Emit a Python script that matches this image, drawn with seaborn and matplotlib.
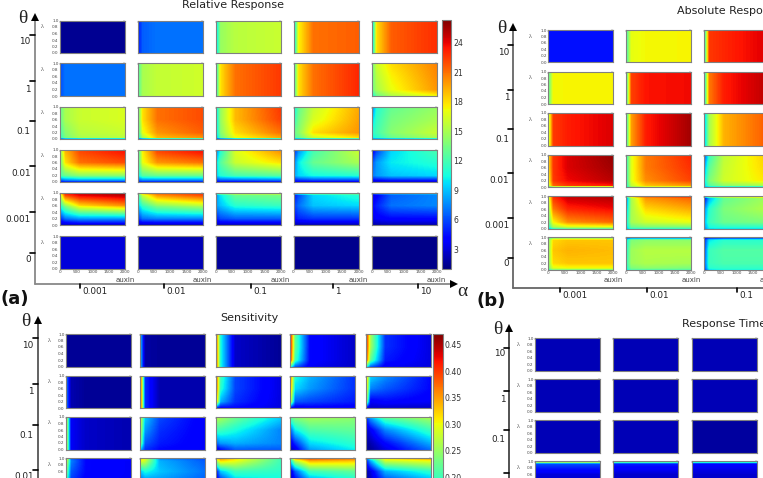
import numpy as np
import matplotlib
matplotlib.use('Agg')
import matplotlib.pyplot as plt
import seaborn as sns
from matplotlib.cm import ScalarMappable
from matplotlib.colors import Normalize

W, H = 763, 478

sns.set_style('white')
plt.rcParams['font.family'] = ['DejaVu Sans']

# sample points inside every small map
auxin_nodes = [0, 150, 600, 2000]
lambda_nodes = [1.0, 0.92, 0.6, 0.2, 0.0]
lambda_nodes_edge = [1.0, 0.92, 0.6, 0.2, 0.05, 0.0]
auxin_ticks = [0, 500, 1000, 1500, 2000]
lambda_ticks = [1.0, 0.8, 0.6, 0.4, 0.2, 0.0]
theta_labels = ['10', '1', '0.1', '0.01', '0.001', '0']
alpha_labels = ['0.001', '0.01', '0.1', '1', '10']

# each map: one number (flat), one row (no lambda change) or 5/6 rows of 4
relative_response = [
    [1.4,
     [4.5, 6.5, 7, 7],
     [9, 14.5, 15.5, 16],
     [9, 17.5, 21, 21.5],
     [8, 18, 21.5, 22.8]],
    [[6, 7, 7, 7],
     [12, 15, 15.8, 16.2],
     [10, 18, 21, 22.5],
     [11, 18, 21, 23],
     [[13, 16, 18, 20.5], [13, 16, 18, 20.5], [13, 15.5, 17.5, 20.3], [13, 15, 17, 20], [10, 13, 15, 17]]],
    [[[13, 15, 16, 16.5], [13, 15, 16, 16.5], [13, 15, 16, 16.5], [12, 14, 15.5, 16], [11, 13.5, 15, 15.5], [5, 6, 6, 6]],
     [[12, 18, 21, 22], [12, 18, 21, 22], [12, 18, 21, 22], [11, 17, 20, 21.5], [10, 15, 19, 20], [5, 5, 5, 5]],
     [[9, 14.5, 19, 22.5], [9, 14.5, 19, 22.5], [9, 14.5, 19, 22.3], [9, 14, 18, 21], [8, 13, 17, 19.5], [5, 5, 5, 5]],
     [[10, 13, 16, 19.5], [10, 13, 16, 19.5], [11, 13.5, 16.5, 19.7], [13, 14, 18, 20], [12, 13, 16, 18], [7, 7, 7, 7]],
     [[7, 11, 13, 14.5], [7, 11, 13, 14.5], [9, 11.5, 13.5, 15], [11, 12, 14, 16], [10, 11, 13, 15], [7, 7, 7, 7]]],
    [[[14, 19, 22, 23.5], [14, 19, 22, 23.5], [13, 18, 21, 22], [12, 13, 14, 14], [6, 7, 7.5, 7.5], [4, 4, 4, 4]],
     [[11, 17.5, 22, 23.5], [11, 17.5, 22, 23.5], [11, 17, 20, 21], [10, 12.5, 13, 13], [6, 7, 7, 7], [4, 4, 4, 4]],
     [[7, 11, 16.5, 20], [7, 11, 16.5, 20], [9, 12.5, 16, 18], [9, 11, 12, 12.5], [5, 6, 6, 6.5], [3.5, 3.5, 3.5, 3.5]],
     [[5, 8, 12, 16], [5, 8, 12, 16], [7, 10, 13, 15], [8, 9.5, 10.5, 11], [4.5, 5, 5.5, 5.5], [3, 3, 3, 3]],
     [[3.5, 6, 9.5, 12], [3.5, 6, 9.5, 12], [6, 8, 10, 11], [7, 8, 9, 9.5], [3.8, 4, 4.5, 4.5], [2.5, 2.5, 2.5, 2.5]]],
    [[[18, 24, 25, 26], [15, 22, 24, 25], [11, 14, 18, 20], [5, 7, 8, 8], [3, 3.5, 4, 4], [2, 2, 2, 2]],
     [[14, 20, 22, 23], [11, 16, 20, 22], [9, 11.5, 14, 15.5], [5, 7, 7.5, 7.5], [3, 3.5, 3.5, 3.5], [2, 2, 2, 2]],
     [[14, 16, 18, 18], [7.5, 10, 13, 13.5], [8, 9, 11, 11.5], [4.5, 6, 6.5, 6.5], [2.8, 3.3, 3.3, 3.3], [2, 2, 2, 2]],
     [[12, 14, 15, 15], [4.5, 6, 9.5, 11], [5.5, 7, 9, 9.5], [4, 5, 5.5, 5.5], [2.5, 2.8, 3, 3], [1.8, 1.8, 1.8, 1.8]],
     [[8, 9, 10, 10], [3.2, 4, 6.5, 7.5], [4, 5, 7, 7.5], [3, 3.8, 4.2, 4.2], [2.2, 2.4, 2.6, 2.6], [1.6, 1.6, 1.6, 1.6]]],
    [3, 2.2, 1.6, 1.3, 1.2],
]

absolute_response = [
    [0.14,
     [0.42, 0.63, 0.645, 0.65],
     [0.35, 0.85, 0.87, 0.92]],
    [[0.45, 0.645, 0.65, 0.65],
     [0.4, 0.84, 0.89, 0.9],
     [0.35, 0.78, 0.88, 0.95]],
    [[0.55, 0.85, 0.88, 0.92],
     [0.4, 0.74, 0.88, 0.97],
     [0.3, 0.55, 0.72, 0.82]],
    [[[0.65, 0.85, 0.92, 0.98], [0.65, 0.85, 0.92, 0.98], [0.65, 0.85, 0.92, 0.97], [0.6, 0.85, 0.9, 0.95], [0.55, 0.8, 0.85, 0.88], [0.4, 0.4, 0.4, 0.4]],
     [[0.4, 0.62, 0.78, 0.87], [0.4, 0.62, 0.78, 0.87], [0.4, 0.62, 0.78, 0.86], [0.4, 0.62, 0.76, 0.84], [0.38, 0.58, 0.7, 0.75], [0.35, 0.5, 0.55, 0.55]],
     [[0.2, 0.42, 0.58, 0.7], [0.2, 0.42, 0.58, 0.7], [0.28, 0.46, 0.59, 0.69], [0.35, 0.5, 0.6, 0.67], [0.32, 0.45, 0.52, 0.55], [0.3, 0.3, 0.3, 0.3]]],
    [[[0.55, 0.88, 0.95, 0.97], [0.55, 0.85, 0.93, 0.95], [0.5, 0.78, 0.87, 0.9], [0.45, 0.65, 0.76, 0.8], [0.38, 0.55, 0.6, 0.62], [0.3, 0.4, 0.45, 0.45]],
     [[0.5, 0.78, 0.85, 0.92], [0.25, 0.55, 0.75, 0.8], [0.3, 0.55, 0.68, 0.73], [0.35, 0.55, 0.6, 0.63], [0.32, 0.48, 0.5, 0.5], [0.3, 0.4, 0.4, 0.4]],
     [[0.6, 0.7, 0.75, 0.8], [0.12, 0.3, 0.47, 0.55], [0.25, 0.4, 0.5, 0.57], [0.3, 0.42, 0.48, 0.5], [0.27, 0.38, 0.4, 0.4], [0.25, 0.35, 0.35, 0.35]]],
    [[[0.42, 0.45, 0.45, 0.45], [0.5, 0.68, 0.7, 0.7], [0.5, 0.7, 0.72, 0.71], [0.5, 0.68, 0.7, 0.7], [0.48, 0.62, 0.64, 0.64], [0.4, 0.5, 0.5, 0.5]],
     [[0.15, 0.15, 0.15, 0.15], [0.35, 0.5, 0.52, 0.52], [0.38, 0.54, 0.57, 0.57], [0.4, 0.54, 0.56, 0.55], [0.38, 0.5, 0.52, 0.5], [0.35, 0.45, 0.45, 0.45]],
     [[0.08, 0.08, 0.08, 0.08], [0.15, 0.35, 0.4, 0.4], [0.18, 0.42, 0.45, 0.45], [0.2, 0.42, 0.44, 0.44], [0.18, 0.4, 0.41, 0.41], [0.15, 0.35, 0.38, 0.38]]],
]

sensitivity = [
    [0.01,
     [0.16, 0.015, 0.01, 0.01],
     [0.42, 0.18, 0.03, 0.01],
     [[0.43, 0.22, 0.06, 0.03], [0.43, 0.22, 0.06, 0.03], [0.43, 0.22, 0.06, 0.03], [0.42, 0.2, 0.06, 0.03], [0.2, 0.1, 0.05, 0.03]],
     [[0.44, 0.26, 0.08, 0.04], [0.44, 0.26, 0.08, 0.04], [0.44, 0.26, 0.08, 0.04], [0.43, 0.22, 0.07, 0.04], [0.2, 0.1, 0.05, 0.04]]],
    [[0.12, 0.02, 0.01, 0.01],
     [0.42, 0.08, 0.02, 0.02],
     [[0.42, 0.2, 0.09, 0.04], [0.42, 0.2, 0.09, 0.04], [0.42, 0.19, 0.09, 0.04], [0.38, 0.14, 0.08, 0.04], [0.05, 0.05, 0.06, 0.04]],
     [[0.38, 0.18, 0.14, 0.08], [0.38, 0.18, 0.14, 0.08], [0.36, 0.16, 0.13, 0.08], [0.3, 0.1, 0.09, 0.07], [0.04, 0.04, 0.05, 0.05]],
     [[0.38, 0.15, 0.12, 0.06], [0.38, 0.15, 0.12, 0.06], [0.36, 0.12, 0.1, 0.06], [0.3, 0.05, 0.06, 0.05], [0.03, 0.03, 0.03, 0.03]]],
    [[0.3, 0.05, 0.03, 0.02],
     [[0.3, 0.15, 0.09, 0.05], [0.3, 0.15, 0.09, 0.05], [0.28, 0.13, 0.08, 0.05], [0.25, 0.1, 0.07, 0.05], [0.15, 0.08, 0.06, 0.05]],
     [[0.28, 0.26, 0.22, 0.15], [0.26, 0.25, 0.22, 0.15], [0.2, 0.2, 0.18, 0.12], [0.1, 0.13, 0.14, 0.12], [0.03, 0.06, 0.1, 0.1]],
     [[0.22, 0.24, 0.26, 0.26], [0.2, 0.23, 0.25, 0.24], [0.1, 0.17, 0.21, 0.22], [0.04, 0.08, 0.16, 0.19], [0.02, 0.04, 0.13, 0.17]],
     [[0.12, 0.15, 0.24, 0.28], [0.06, 0.12, 0.2, 0.25], [0.03, 0.05, 0.12, 0.2], [0.01, 0.02, 0.06, 0.14], [0.01, 0.01, 0.04, 0.11]]],
    [[[0.35, 0.1, 0.06, 0.06], [0.3, 0.12, 0.06, 0.05], [0.25, 0.1, 0.06, 0.05], [0.2, 0.08, 0.05, 0.05], [0.1, 0.05, 0.05, 0.05]],
     [[0.33, 0.3, 0.12, 0.09], [0.3, 0.28, 0.14, 0.1], [0.15, 0.18, 0.15, 0.11], [0.08, 0.1, 0.12, 0.1], [0.05, 0.06, 0.08, 0.08]],
     [[0.33, 0.36, 0.32, 0.2], [0.25, 0.32, 0.3, 0.2], [0.05, 0.15, 0.2, 0.19], [0.02, 0.05, 0.13, 0.17], [0.01, 0.03, 0.1, 0.15]],
     [[0.2, 0.36, 0.4, 0.38], [0.16, 0.27, 0.34, 0.33], [0.03, 0.1, 0.2, 0.22], [0.01, 0.03, 0.1, 0.16], [0.01, 0.02, 0.07, 0.14]],
     [[0.1, 0.2, 0.32, 0.36], [0.06, 0.14, 0.28, 0.3], [0.01, 0.04, 0.14, 0.19], [0.01, 0.02, 0.07, 0.12], [0.01, 0.01, 0.05, 0.1]]],
]

response_time = [
    [0.05, 0.05, 0.05],
    [0.05, 0.05, 0.05],
    [0.05, 0.05, 0.03],
    [[[0.8, 0.8, 0.8, 0.8], [0.2, 0.2, 0.2, 0.2], [0.08, 0.08, 0.08, 0.08], [0.06, 0.06, 0.06, 0.06], [0.05, 0.05, 0.05, 0.05]],
     [[0.65, 0.65, 0.65, 0.65], [0.15, 0.15, 0.15, 0.15], [0.07, 0.07, 0.07, 0.07], [0.06, 0.06, 0.06, 0.06], [0.05, 0.05, 0.05, 0.05]],
     [[0.6, 0.6, 0.6, 0.6], [0.12, 0.12, 0.12, 0.12], [0.07, 0.07, 0.07, 0.07], [0.06, 0.06, 0.06, 0.06], [0.05, 0.05, 0.05, 0.05]]],
]

fig = plt.figure(figsize=(W / 100, H / 100), dpi=100)

# cell counts of the smooth map, about two cells a pixel
NX, NY = 130, 66


def px_axes(x0, y0, x1, y1):
    return fig.add_axes([x0 / W, 1 - y1 / H, (x1 - x0) / W, (y1 - y0) / H])


def smooth_map(values):
    grid = np.atleast_2d(np.array(values, dtype=float))
    lam = lambda_nodes_edge if grid.shape[0] == 6 else lambda_nodes
    grid = np.broadcast_to(grid, (len(lam), 4))
    xf = (np.arange(NX) + 0.5) / NX * 2000
    yf = 1 - (np.arange(NY) + 0.5) / NY
    rows = np.array([np.interp(xf, auxin_nodes, g) for g in grid])
    # np.interp wants rising x, lambda runs down
    return np.array([np.interp(yf, lam[::-1], rows[::-1, j]) for j in range(NX)]).T


def draw_map(ax, values, vmin, vmax):
    sns.heatmap(smooth_map(values), ax=ax, cmap='jet', vmin=vmin, vmax=vmax, cbar=False,
                xticklabels=False, yticklabels=False)
    ax.set_xticks(np.array(auxin_ticks) / 2000 * NX)
    ax.set_yticks((1 - np.array(lambda_ticks)) * NY)
    ax.tick_params(direction='in', length=1.2, width=0.3, color='#555555', top=True, right=True,
                   labelsize=3.0, labelcolor='#444444', pad=1)
    for sp in ax.spines.values():
        sp.set_visible(True)
        sp.set_color('#808080')
        sp.set_linewidth(0.8)


def draw_block(data, cols, rows, vmin, vmax, x_labels):
    for r, row in enumerate(data):
        for c, values in enumerate(row):
            ax = px_axes(cols[c], rows[r], cols[c] + 65, rows[r] + 32.5)
            draw_map(ax, values, vmin, vmax)
            ax.set_xticklabels([str(t) for t in auxin_ticks] if (x_labels and r == len(data) - 1) else [])
            # labels that would fall under the picture edge stay empty
            ylabs = [f'{t:.1f}' if rows[r] + 32.5 * (1 - t) < H - 2 else '' for t in lambda_ticks]
            ax.set_yticklabels(ylabs if c == 0 else [], rotation=0)


rel_cols = [60, 137.6, 215.6, 293.5, 371.6]
rel_rows = [20.5, 63.5, 106.5, 149.5, 192.7, 236]
abs_cols = [548.3, 626.2, 704.3]
abs_rows = [30, 71.5, 113, 154.6, 196, 237.3]
sen_cols = [66, 140.3, 215.6, 290.3, 365.6]
sen_rows = [334, 375.6, 417, 458.3]
tim_cols = [535, 613.3, 691.7]
tim_rows = [338.3, 379.3, 420.3, 461.3]

draw_block(relative_response, rel_cols, rel_rows, 1, 26.3, True)
draw_block(absolute_response, abs_cols, abs_rows, 0, 1, True)
draw_block(sensitivity, sen_cols, sen_rows, 0, 0.47, False)
draw_block(response_time, tim_cols, tim_rows, 0, 1, False)

# the two colour bars
cax = px_axes(441.7, 20, 451.3, 269)
cb = fig.colorbar(ScalarMappable(Normalize(1, 26.3), 'jet'), cax=cax, ticks=[3, 6, 9, 12, 15, 18, 21, 24])
cb.ax.tick_params(labelsize=5.6, length=2, width=0.4, direction='in', color='#444444', labelcolor='#333333', pad=1.5)
cb.outline.set_edgecolor('#808080')

cax = px_axes(433.3, 334, 442.7, 583)
cb = fig.colorbar(ScalarMappable(Normalize(0, 0.47), 'jet'), cax=cax,
                  ticks=[0.20, 0.25, 0.30, 0.35, 0.40, 0.45], format='%.2f')
cb.ax.tick_params(labelsize=5.6, length=2, width=0.4, direction='in', color='#444444', labelcolor='#333333', pad=1.5)
cb.outline.set_edgecolor('#808080')

# overlay in pixel coordinates for the big axes and the labels
ov = fig.add_axes([0, 0, 1, 1], facecolor='none')
ov.set_xlim(0, W)
ov.set_ylim(H, 0)
ov.axis('off')


def big_axes(x, top, bottom, xend, color, yticks, ylabs, xticks, xlabs):
    ov.plot([x, x], [top, bottom], color=color, lw=1.3, clip_on=False)
    ov.plot([x], [top], marker='^', color='k', ms=5.5, mew=0)
    ov.text(x - 12, top + 1, '\u03b8', family='Liberation Serif', fontsize=14, ha='center', va='center', color='#222222')
    for y in yticks:
        ov.plot([x - 5, x], [y, y], color='k', lw=1.2)
    for yl, lab in zip(ylabs, theta_labels):
        ov.text(x - 4, yl, lab, fontsize=6.4, ha='right', va='center', color='#222222')
    if xend is not None:
        ov.plot([x, xend], [bottom, bottom], color=color, lw=1.3)
        if xend < W:
            ov.plot([xend], [bottom], marker='>', color='k', ms=5.5, mew=0)
            ov.text(xend + 8, bottom + 7, '\u03b1', family='Liberation Serif', fontsize=14, ha='center', va='center', color='#222222')
    for xt, lab in zip(xticks, xlabs):
        ov.plot([xt, xt], [bottom, bottom + 4], color='k', lw=1.2)
        ov.text(xt + 2.5, bottom + 8, lab, fontsize=6.4, ha='left', va='center', color='#222222')


big_axes(34.5, 17, 284, 454, '#888888',
         [34.7, 80.7, 121.3, 166, 212, 253.3], [41, 89, 131, 174, 220, 260],
         [79.7, 163.7, 251, 333, 417.7], alpha_labels)
big_axes(513.3, 27, 287.7, 763, '#666666',
         [45, 90, 129.3, 173.3, 217.7, 257.7], [52, 97.7, 139, 180.7, 225, 264],
         [560, 647, 737], alpha_labels)
big_axes(37.7, 320, 478, None, '#555555',
         [338.3, 384.3, 424.7, 470], [345, 391.7, 435, 476.7], [], [])
big_axes(509.3, 328, 478, None, '#444444',
         [347.7, 390.7, 430, 473.3], [353, 399, 440], [], [])

ov.text(232.5, 5, 'Relative Response', fontsize=8, ha='center', va='center', color='#222222')
ov.text(676.7, 11, 'Absolute Response', fontsize=8, ha='left', va='center', color='#222222')
ov.text(249.5, 317.7, 'Sensitivity', fontsize=8, ha='center', va='center', color='#222222')
ov.text(681.7, 324, 'Response Time', fontsize=8, ha='left', va='center', color='#222222')
ov.text(0, 299, '(a)', fontsize=13, fontweight='bold', ha='left', va='center', color='#111111')
ov.text(476, 301, '(b)', fontsize=13, fontweight='bold', ha='left', va='center', color='#111111')

# lambda marks and auxin captions
for cols_first, rows_top in [(42, rel_rows), (530.5, abs_rows), (49, sen_rows), (518, tim_rows)]:
    for y in rows_top:
        ov.text(cols_first, y + 6, '\u03bb', family='Liberation Serif', fontsize=4.5, ha='center', va='center', color='#444444')
for xs in (rel_cols, abs_cols):
    for xc in xs:
        ov.text(xc + 65, 280, 'auxin', fontsize=5, ha='center', va='center', color='#444444')

fig.savefig('out.png', dpi=100)
